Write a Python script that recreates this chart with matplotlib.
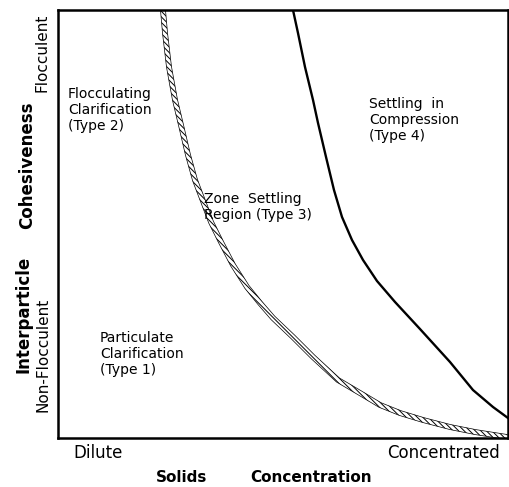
import matplotlib
matplotlib.use("Agg")
import matplotlib.pyplot as plt
from matplotlib.patches import Polygon
import numpy as np

# boundary between clarification (type 1/2) and zone settling (type 3)
hatch_x = [0.2333, 0.2378, 0.2467, 0.2600, 0.2733, 0.2889, 0.3044, 0.3222,
           0.3400, 0.3622, 0.3889, 0.4200, 0.4489, 0.4778, 0.5222, 0.5667,
           0.6222, 0.6711, 0.7156, 0.7600, 0.8111, 0.8711, 0.9267, 0.9978]
hatch_y = [1.0, 0.9463, 0.8668, 0.7897, 0.7313, 0.6612, 0.6028, 0.5537,
           0.5047, 0.4579, 0.4042, 0.3528, 0.3154, 0.2804, 0.2360, 0.1893,
           0.1355, 0.1051, 0.0771, 0.0584, 0.0421, 0.0257, 0.0140, 0.0023]

# boundary between zone settling (type 3) and compression (type 4)
solid_x = [0.5222, 0.5333, 0.5489, 0.5667, 0.5778, 0.5956, 0.6133, 0.6311,
           0.6533, 0.6778, 0.7089, 0.7489, 0.8044, 0.8711, 0.9222, 0.9667, 1.0]
solid_y = [1.0, 0.9463, 0.8668, 0.7897, 0.7360, 0.6565, 0.5794, 0.5164,
           0.4626, 0.4159, 0.3668, 0.3178, 0.2547, 0.1776, 0.1121, 0.0724, 0.0467]

W, H = 510, 487

fig = plt.figure(figsize=(W / 100, H / 100), dpi=100)
ax = fig.add_axes([58 / W, (H - 438) / H, 450 / W, 428 / H])
ax.set_xlim(0, 1)
ax.set_ylim(0, 1)
ax.set_xticks([])
ax.set_yticks([])
for s in ax.spines.values():
    s.set_linewidth(1.8)

# hatched band: offset the curve by a few pixels on each side
plt.rcParams['hatch.linewidth'] = 0.7
pts = ax.transData.transform(np.column_stack([hatch_x, hatch_y]))
d = np.gradient(pts, axis=0)
d = d / np.linalg.norm(d, axis=1)[:, None]
nrm = np.column_stack([-d[:, 1], d[:, 0]])
half = 2.5
upper = ax.transData.inverted().transform(pts + nrm * half)
lower = ax.transData.inverted().transform(pts - nrm * half)
band = Polygon(np.vstack([upper, lower[::-1]]), closed=True, facecolor='white',
               edgecolor='black', hatch='\\\\\\\\\\\\', linewidth=0)
ax.add_patch(band)
ax.plot(upper[:, 0], upper[:, 1], color='black', lw=0.5)
ax.plot(lower[:, 0], lower[:, 1], color='black', lw=0.5)

ax.plot(solid_x, solid_y, color='black', lw=1.7)


def fx(px):
    return px / W


def fy(py):
    return 1 - py / H


area_kw = dict(fontsize=10, ha='left', va='top', linespacing=1.2)
fig.text(fx(68), fy(87), "Flocculating\nClarification\n(Type 2)", **area_kw)
fig.text(fx(204), fy(192), "Zone  Settling\nRegion (Type 3)", **area_kw)
fig.text(fx(369), fy(97), "Settling  in\nCompression\n(Type 4)", **area_kw)
fig.text(fx(100), fy(331), "Particulate\nClarification\n(Type 1)", **area_kw)

fig.text(fx(73), fy(453), "Dilute", fontsize=12, ha='left', va='center')
fig.text(fx(500), fy(453), "Concentrated", fontsize=12, ha='right', va='center')
fig.text(fx(182), fy(478), "Solids", fontsize=11, fontweight='bold',
         ha='center', va='center')
fig.text(fx(311), fy(478), "Concentration", fontsize=11, fontweight='bold',
         ha='center', va='center')

fig.text(fx(27), fy(165), "Cohesiveness", fontsize=12, fontweight='bold',
         rotation=90, ha='center', va='center')
fig.text(fx(24), fy(314), "Interparticle", fontsize=12, fontweight='bold',
         rotation=90, ha='center', va='center')
fig.text(fx(42), fy(53), "Flocculent", fontsize=11,
         rotation=90, ha='center', va='center')
fig.text(fx(43), fy(355), "Non-Flocculent", fontsize=11,
         rotation=90, ha='center', va='center')

fig.savefig("out.png", dpi=100)
